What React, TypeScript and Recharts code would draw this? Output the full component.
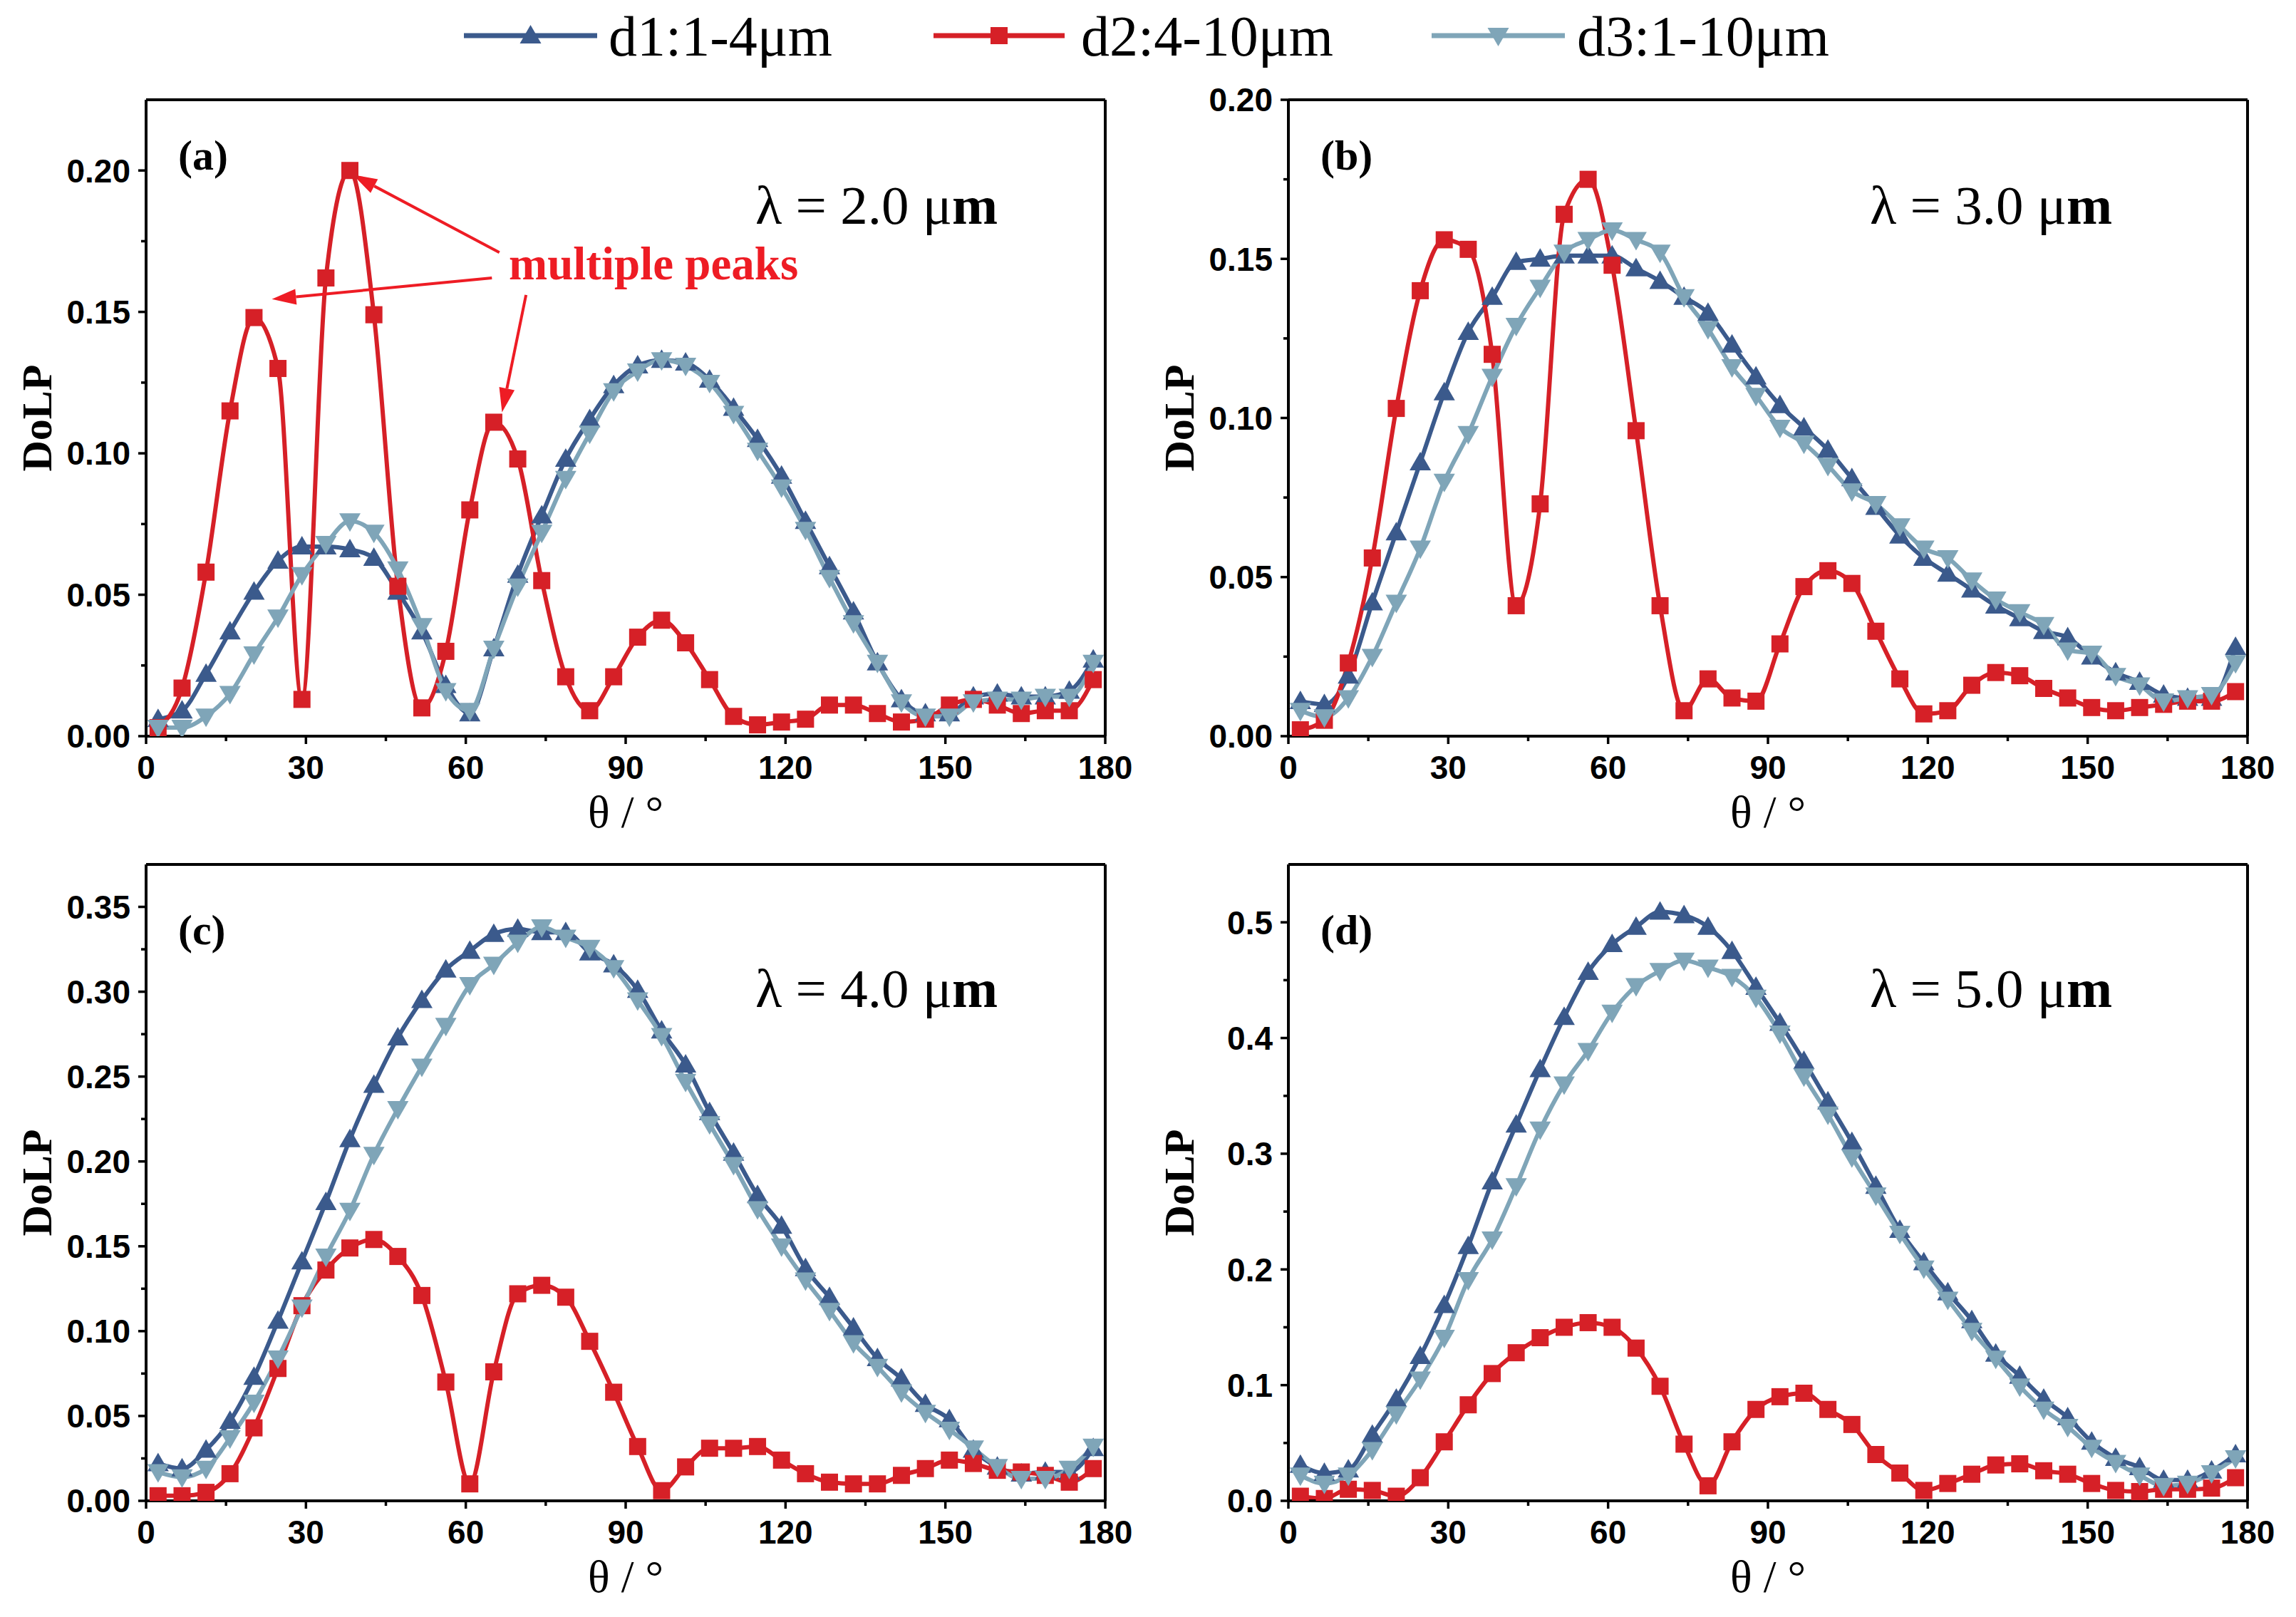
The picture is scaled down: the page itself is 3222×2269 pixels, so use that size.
import React from 'react';
import { LineChart, Line, XAxis, YAxis, ReferenceLine } from 'recharts';

// scattering angle of every sample (deg)
const angles = [
  2.25, 6.75, 11.25, 15.75, 20.25, 24.75, 29.25, 33.75, 38.25, 42.75,
  47.25, 51.75, 56.25, 60.75, 65.25, 69.75, 74.25, 78.75, 83.25, 87.75,
  92.25, 96.75, 101.25, 105.75, 110.25, 114.75, 119.25, 123.75, 128.25, 132.75,
  137.25, 141.75, 146.25, 150.75, 155.25, 159.75, 164.25, 168.75, 173.25, 177.75,
];

// (a) lambda = 2.0 um
const aD1 = [0.006, 0.009, 0.022, 0.037, 0.051, 0.062, 0.067, 0.067, 0.066, 0.063, 0.051, 0.037, 0.018, 0.008, 0.031, 0.057, 0.078, 0.098, 0.112, 0.124, 0.131, 0.133, 0.132, 0.126, 0.116, 0.105, 0.092, 0.076, 0.060, 0.044, 0.026, 0.013, 0.008, 0.008, 0.014, 0.015, 0.014, 0.014, 0.016, 0.027];
const aD2 = [0.003, 0.017, 0.058, 0.115, 0.148, 0.130, 0.013, 0.162, 0.200, 0.149, 0.053, 0.010, 0.030, 0.080, 0.111, 0.098, 0.055, 0.021, 0.009, 0.021, 0.035, 0.041, 0.033, 0.020, 0.007, 0.004, 0.005, 0.006, 0.011, 0.011, 0.008, 0.005, 0.006, 0.011, 0.013, 0.011, 0.008, 0.009, 0.009, 0.020];
const aD3 = [0.003, 0.003, 0.007, 0.015, 0.029, 0.042, 0.057, 0.068, 0.076, 0.072, 0.059, 0.039, 0.016, 0.009, 0.031, 0.053, 0.072, 0.091, 0.107, 0.122, 0.129, 0.133, 0.131, 0.125, 0.114, 0.101, 0.088, 0.073, 0.056, 0.040, 0.026, 0.012, 0.007, 0.007, 0.012, 0.013, 0.013, 0.014, 0.014, 0.026];

// (b) lambda = 3.0 um
const bD1 = [0.011, 0.010, 0.019, 0.042, 0.064, 0.086, 0.108, 0.127, 0.138, 0.149, 0.150, 0.151, 0.151, 0.151, 0.147, 0.143, 0.138, 0.133, 0.123, 0.113, 0.104, 0.097, 0.090, 0.081, 0.072, 0.063, 0.056, 0.051, 0.046, 0.041, 0.037, 0.033, 0.031, 0.025, 0.020, 0.017, 0.013, 0.012, 0.012, 0.028];
const bD2 = [0.002, 0.005, 0.023, 0.056, 0.103, 0.140, 0.156, 0.153, 0.120, 0.041, 0.073, 0.164, 0.175, 0.148, 0.096, 0.041, 0.008, 0.018, 0.012, 0.011, 0.029, 0.047, 0.052, 0.048, 0.033, 0.018, 0.007, 0.008, 0.016, 0.020, 0.019, 0.015, 0.012, 0.009, 0.008, 0.009, 0.010, 0.011, 0.011, 0.014];
const bD3 = [0.008, 0.006, 0.012, 0.025, 0.042, 0.059, 0.080, 0.095, 0.113, 0.129, 0.141, 0.152, 0.156, 0.159, 0.156, 0.152, 0.138, 0.128, 0.116, 0.107, 0.097, 0.092, 0.085, 0.077, 0.073, 0.066, 0.059, 0.056, 0.049, 0.043, 0.039, 0.035, 0.027, 0.026, 0.019, 0.016, 0.011, 0.012, 0.013, 0.023];

// (c) lambda = 4.0 um
const cD1 = [0.022, 0.019, 0.030, 0.047, 0.073, 0.106, 0.141, 0.176, 0.213, 0.245, 0.273, 0.295, 0.313, 0.324, 0.334, 0.337, 0.335, 0.335, 0.323, 0.316, 0.301, 0.277, 0.257, 0.229, 0.205, 0.180, 0.162, 0.137, 0.120, 0.102, 0.084, 0.072, 0.057, 0.048, 0.030, 0.020, 0.016, 0.017, 0.017, 0.031];
const cD2 = [0.003, 0.003, 0.005, 0.016, 0.043, 0.078, 0.115, 0.136, 0.149, 0.154, 0.144, 0.121, 0.070, 0.010, 0.076, 0.122, 0.127, 0.120, 0.094, 0.064, 0.032, 0.006, 0.020, 0.031, 0.031, 0.032, 0.024, 0.016, 0.011, 0.010, 0.010, 0.015, 0.019, 0.024, 0.022, 0.018, 0.017, 0.015, 0.011, 0.019];
const cD3 = [0.017, 0.014, 0.019, 0.037, 0.058, 0.084, 0.114, 0.144, 0.171, 0.204, 0.231, 0.256, 0.280, 0.304, 0.316, 0.329, 0.338, 0.332, 0.326, 0.314, 0.295, 0.274, 0.247, 0.222, 0.198, 0.172, 0.150, 0.130, 0.112, 0.093, 0.079, 0.064, 0.052, 0.042, 0.031, 0.020, 0.013, 0.013, 0.019, 0.032];

// (d) lambda = 5.0 um
const dD1 = [0.031, 0.024, 0.027, 0.057, 0.088, 0.125, 0.169, 0.220, 0.276, 0.325, 0.373, 0.418, 0.457, 0.481, 0.496, 0.509, 0.506, 0.496, 0.475, 0.444, 0.413, 0.380, 0.345, 0.310, 0.272, 0.234, 0.206, 0.180, 0.156, 0.127, 0.108, 0.088, 0.072, 0.051, 0.037, 0.029, 0.018, 0.018, 0.026, 0.040];
const dD2 = [0.004, 0.002, 0.010, 0.009, 0.004, 0.020, 0.051, 0.083, 0.110, 0.128, 0.141, 0.150, 0.154, 0.150, 0.132, 0.099, 0.049, 0.013, 0.051, 0.079, 0.090, 0.093, 0.079, 0.066, 0.040, 0.024, 0.009, 0.015, 0.023, 0.031, 0.032, 0.026, 0.023, 0.015, 0.009, 0.008, 0.010, 0.010, 0.011, 0.020];
const dD3 = [0.022, 0.015, 0.022, 0.044, 0.075, 0.105, 0.141, 0.191, 0.226, 0.272, 0.321, 0.360, 0.389, 0.422, 0.445, 0.458, 0.467, 0.461, 0.453, 0.435, 0.404, 0.367, 0.334, 0.297, 0.264, 0.231, 0.201, 0.174, 0.147, 0.123, 0.099, 0.079, 0.064, 0.046, 0.033, 0.022, 0.013, 0.015, 0.024, 0.037];

// axis ticks (majors get labels, the rest are minor ticks)
const xTicks = [0, 15, 30, 45, 60, 75, 90, 105, 120, 135, 150, 165, 180];
const yTicksSmall = [0, 0.025, 0.05, 0.075, 0.1, 0.125, 0.15, 0.175, 0.2];
const yTicksC = [0, 0.025, 0.05, 0.075, 0.1, 0.125, 0.15, 0.175, 0.2, 0.225, 0.25, 0.275, 0.3, 0.325, 0.35];
const yTicksD = [0, 0.05, 0.1, 0.15, 0.2, 0.25, 0.3, 0.35, 0.4, 0.45, 0.5];

const seriesNames = ['d1:1-4\u03bcm', 'd2:4-10\u03bcm', 'd3:1-10\u03bcm'];

const C1 = '#3b5a8c';
const C2 = '#d62027';
const C3 = '#7fa5b8';
const ANNOT = '#ee1c24';
const SERIF = '"Liberation Serif", "Times New Roman", serif';
const SANS = '"Liberation Sans", Arial, sans-serif';

// shared geometry of one panel (px)
const ML = 205;
const MT = 140;
const PW = 1346;
const PH = 893;
const CW = ML + PW + 70;
const CH = MT + PH + 160;
const AXIS_Y = MT + PH;

type Shape = 'up' | 'square' | 'down';

const markerPath = (shape: Shape, cx: number, cy: number) => {
  if (shape === 'square') return `M${cx - 12},${cy - 12}h24v24h-24Z`;
  if (shape === 'up') return `M${cx},${cy - 15}L${cx + 15},${cy + 11}L${cx - 15},${cy + 11}Z`;
  return `M${cx},${cy + 15}L${cx + 15},${cy - 11}L${cx - 15},${cy - 11}Z`;
};

const makeDot = (shape: Shape, color: string) => (props: any) => {
  const { cx, cy, index } = props;
  if (cx == null || cy == null) return <g key={`e-${shape}-${index}`} />;
  return <path key={`${shape}-${index}`} d={markerPath(shape, cx, cy)} fill={color} />;
};

const isMajor = (v: number, step: number) => Math.abs(v / step - Math.round(v / step)) < 1e-6;

const XTick = (props: any) => {
  const { x, payload } = props;
  const major = isMajor(payload.value, 30);
  return (
    <g>
      <line x1={x} x2={x} y1={AXIS_Y} y2={AXIS_Y + (major ? 11 : 7)} stroke="#000" strokeWidth={3.5} />
      {major && (
        <text x={x} y={AXIS_Y + 27} dy="0.71em" textAnchor="middle" fontFamily={SANS} fontWeight="bold" fontSize={46} fill="#000">
          {payload.value}
        </text>
      )}
    </g>
  );
};

const makeYTick = (step: number, digits: number) => (props: any) => {
  const { y, payload } = props;
  const major = isMajor(payload.value, step);
  return (
    <g>
      <line x1={ML - (major ? 11 : 7)} x2={ML} y1={y} y2={y} stroke="#000" strokeWidth={3.5} />
      {major && (
        <text x={ML - 22} y={y} dy="0.355em" textAnchor="end" fontFamily={SANS} fontWeight="bold" fontSize={46} fill="#000">
          {payload.value.toFixed(digits)}
        </text>
      )}
    </g>
  );
};

const Arrow = (props: any) => {
  const { x1, y1, x2, y2 } = props;
  const ang = Math.atan2(y2 - y1, x2 - x1);
  const len = 34;
  const half = 11;
  const bx = x2 - len * Math.cos(ang);
  const by = y2 - len * Math.sin(ang);
  const px = -Math.sin(ang) * half;
  const py = Math.cos(ang) * half;
  return (
    <g>
      <line x1={x1} y1={y1} x2={bx} y2={by} stroke={ANNOT} strokeWidth={4} />
      <path d={`M${x2},${y2}L${bx + px},${by + py}L${bx - px},${by - py}Z`} fill={ANNOT} />
    </g>
  );
};

interface PanelProps {
  left: number;
  top: number;
  d1: number[];
  d2: number[];
  d3: number[];
  yMax: number;
  yTicks: number[];
  step: number;
  digits: number;
  tag: string;
  tagY: number;
  lambda: string;
  lambdaX: number;
  lambdaY: number;
  peaks?: boolean;
}

const Panel: React.FC<PanelProps> = ({ left, top, d1, d2, d3, yMax, yTicks, step, digits, tag, tagY, lambda, lambdaX, lambdaY, peaks }) => {
  const rows = angles.map((a, i) => ({ angle: a, d1: d1[i], d2: d2[i], d3: d3[i] }));
  return (
    <div style={{ position: 'absolute', left, top, width: CW, height: CH }}>
      <LineChart width={CW} height={CH} data={rows} margin={{ top: MT, right: 70, bottom: 27, left: ML - 120 }}>
        <XAxis
          dataKey="angle"
          type="number"
          domain={[0, 180]}
          ticks={xTicks}
          interval={0}
          height={133}
          axisLine={{ stroke: '#000', strokeWidth: 4 }}
          tickLine={false}
          tick={<XTick />}
        />
        <YAxis
          type="number"
          domain={[0, yMax]}
          ticks={yTicks}
          interval={0}
          width={120}
          allowDataOverflow
          axisLine={{ stroke: '#000', strokeWidth: 4 }}
          tickLine={false}
          tick={makeYTick(step, digits)}
        />
        <ReferenceLine y={yMax} stroke="#000" strokeWidth={4} />
        <ReferenceLine x={180} stroke="#000" strokeWidth={4} />
        <Line type="monotone" dataKey="d1" stroke={C1} strokeWidth={6} dot={makeDot('up', C1)} activeDot={false} isAnimationActive={false} />
        <Line type="monotone" dataKey="d2" stroke={C2} strokeWidth={6} dot={makeDot('square', C2)} activeDot={false} isAnimationActive={false} />
        <Line type="monotone" dataKey="d3" stroke={C3} strokeWidth={6} dot={makeDot('down', C3)} activeDot={false} isAnimationActive={false} />
        {peaks && (
          <ReferenceLine segment={[{ x: 66.3, y: 0.171 }, { x: 38.8, y: 0.1985 }]} shape={(p: any) => <Arrow {...p} />} />
        )}
        {peaks && (
          <ReferenceLine segment={[{ x: 64.9, y: 0.162 }, { x: 23.6, y: 0.1545 }]} shape={(p: any) => <Arrow {...p} />} />
        )}
        {peaks && (
          <ReferenceLine segment={[{ x: 71.3, y: 0.156 }, { x: 66.8, y: 0.1145 }]} shape={(p: any) => <Arrow {...p} />} />
        )}
        {peaks && (
          <text x={714} y={392} fontFamily={SERIF} fontWeight="bold" fontSize={65} fill={ANNOT}>
            multiple peaks
          </text>
        )}
        <text x={ML + 45} y={tagY} fontFamily={SERIF} fontWeight="bold" fontSize={60} fill="#000">
          {tag}
        </text>
        <text x={lambdaX} y={lambdaY} fontFamily={SERIF} fontSize={77} fill="#000">
          {lambda}
          <tspan fontWeight="bold">m</tspan>
        </text>
        <text
          x={51}
          y={MT + PH / 2}
          transform={`rotate(-90, 51, ${MT + PH / 2})`}
          dy="0.35em"
          textAnchor="middle"
          fontFamily={SERIF}
          fontWeight="bold"
          fontSize={60}
          fill="#000"
        >
          DoLP
        </text>
        <text x={ML + PW / 2} y={AXIS_Y + 128} textAnchor="middle" fontFamily={SERIF} fontSize={64} fill="#000">
          {'\u03b8 / \u00b0'}
        </text>
      </LineChart>
    </div>
  );
};

const legendItems = [
  { name: seriesNames[0], color: C1, shape: 'up' as Shape, x0: 651, x1: 838, tx: 854 },
  { name: seriesNames[1], color: C2, shape: 'square' as Shape, x0: 1310, x1: 1494, tx: 1517 },
  { name: seriesNames[2], color: C3, shape: 'down' as Shape, x0: 2009, x1: 2196, tx: 2213 },
];

const Legend = () => (
  <svg width={3222} height={110} style={{ position: 'absolute', left: 0, top: 0 }}>
    {legendItems.map((it) => (
      <g key={it.name}>
        <line x1={it.x0} x2={it.x1} y1={50} y2={50} stroke={it.color} strokeWidth={7} />
        <path d={markerPath(it.shape, (it.x0 + it.x1) / 2, 50)} fill={it.color} />
        <text x={it.tx} y={78} fontFamily={SERIF} fontSize={80} fill="#000">
          {it.name}
        </text>
      </g>
    ))}
  </svg>
);

export default function App() {
  return (
    <div style={{ position: 'absolute', left: 0, top: 0, width: 3222, height: 2269, background: '#fff', overflow: 'hidden' }}>
      <Legend />
      <Panel left={0} top={0} d1={aD1} d2={aD2} d3={aD3} yMax={0.225} yTicks={yTicksSmall} step={0.05} digits={2}
        tag="(a)" tagY={238} lambda={'\u03bb = 2.0 \u03bc'} lambdaX={1060} lambdaY={314} peaks />
      <Panel left={1603} top={0} d1={bD1} d2={bD2} d3={bD3} yMax={0.2} yTicks={yTicksSmall} step={0.05} digits={2}
        tag="(b)" tagY={238} lambda={'\u03bb = 3.0 \u03bc'} lambdaX={1021} lambdaY={314} />
      <Panel left={0} top={1073} d1={cD1} d2={cD2} d3={cD3} yMax={0.375} yTicks={yTicksC} step={0.05} digits={2}
        tag="(c)" tagY={252} lambda={'\u03bb = 4.0 \u03bc'} lambdaX={1060} lambdaY={340} />
      <Panel left={1603} top={1073} d1={dD1} d2={dD2} d3={dD3} yMax={0.55} yTicks={yTicksD} step={0.1} digits={1}
        tag="(d)" tagY={252} lambda={'\u03bb = 5.0 \u03bc'} lambdaX={1021} lambdaY={340} />
    </div>
  );
}
